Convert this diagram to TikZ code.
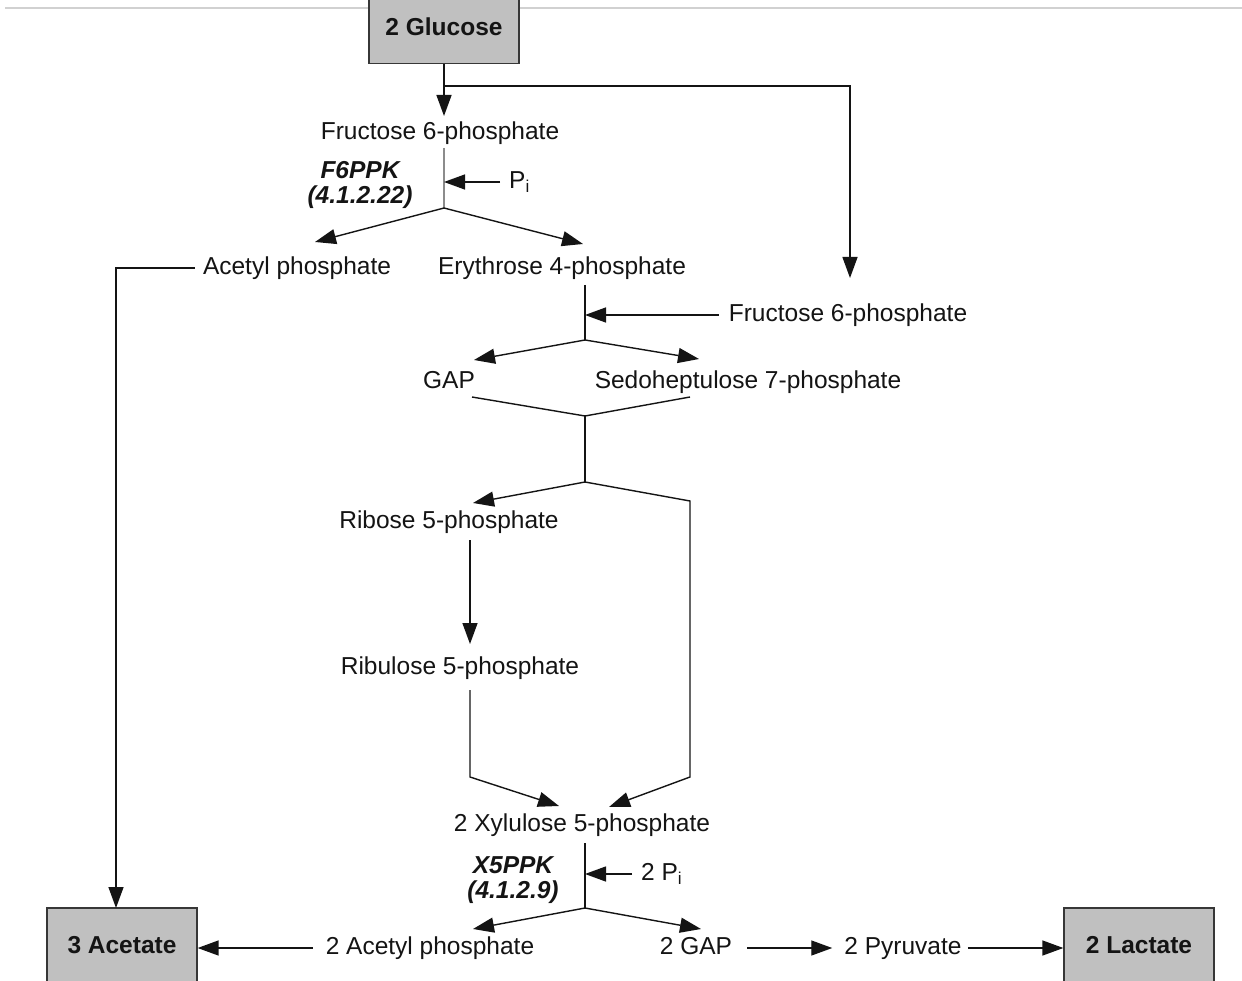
\documentclass[tikz,border=0pt]{standalone}
\usepackage{fontspec}
\setmainfont{Liberation Sans}
\usetikzlibrary{arrows.meta}
\definecolor{ink}{HTML}{141414}
\definecolor{boxgray}{HTML}{C0C0C0}
\begin{document}
\begin{tikzpicture}[x=1pt,y=-1pt,
  lbl/.style={font=\fontsize{24.5}{26}\selectfont, text=ink, inner sep=0pt,
              text height=18pt, text depth=5pt},
  enz/.style={font=\fontsize{24.5}{25.5}\selectfont\bfseries\itshape, text=ink,
              inner sep=0pt, align=center},
  endbox/.style={draw=ink!85, fill=boxgray, line width=1.3pt, inner sep=0pt,
                 minimum width=150pt, text=ink,
                 font=\fontsize{24.5}{26}\selectfont\bfseries},
  flow/.style={line width=1.4pt, draw=ink},
  arr/.style={flow, -{Triangle[length=21pt,width=15pt]}}
]
\useasboundingbox (0,0) rectangle (1242,981);
\clip (0,0) rectangle (1242,981);
\fill[white] (0,0) rectangle (1242,981);
\draw[line width=1.5pt, black!18] (5,8) -- (1242,8);

% end-point boxes
\node[endbox, minimum height=73pt] (glc) at (444,27) {2 Glucose};
\node[endbox, minimum height=74pt] (ace) at (122,945) {3 Acetate};
\node[endbox, minimum height=74pt] (lac) at (1139,945) {2 Lactate};

% metabolites
\node[lbl] (f6pA) at (440,133) {Fructose 6-phosphate};
\node[enz] (k1lab) at (360,185) {F6PPK\\(4.1.2.22)};
\node[lbl, anchor=west] (piA) at (509,182) {P\textsubscript{i}};
\node[lbl] (acp) at (297,268) {Acetyl phosphate};
\node[lbl] (e4p) at (562,268) {Erythrose 4-phosphate};
\node[lbl] (f6pB) at (848,315) {Fructose 6-phosphate};
\node[lbl] (gap) at (449,382) {GAP};
\node[lbl] (s7p) at (748,382) {Sedoheptulose 7-phosphate};
\node[lbl] (r5p) at (449,522) {Ribose 5-phosphate};
\node[lbl] (ru5p) at (460,668) {Ribulose 5-phosphate};
\node[lbl] (x5p) at (582,825) {2 Xylulose 5-phosphate};
\node[enz] (k2lab) at (513,880) {X5PPK\\(4.1.2.9)};
\node[lbl, anchor=west] (piB) at (641,874) {2 P\textsubscript{i}};
\node[lbl] (acp2) at (430,948) {2 Acetyl phosphate};
\node[lbl] (gap2) at (696,948) {2 GAP};
\node[lbl] (pyr) at (903,948) {2 Pyruvate};

% junctions and arrow ends
\coordinate (tF6P) at (444,116);
\coordinate (brG) at (444,86);
\coordinate (tF6Pb) at (850,278);
\coordinate (k1top) at (444,148);
\coordinate (k1) at (444,208);
\coordinate (tAcP) at (315,242);
\coordinate (tE4P) at (583,244);
\coordinate (tAce) at (116,908);
\coordinate (k2top) at (585,285);
\coordinate (k2) at (585,340);
\coordinate (tGAP) at (474,360);
\coordinate (tS7P) at (699,359);
\coordinate (mGAP) at (472,397);
\coordinate (mS7P) at (690,397);
\coordinate (k3) at (585,416);
\coordinate (k4) at (585,482);
\coordinate (tR5P) at (473,503);
\coordinate (cR) at (690,501);
\coordinate (cRb) at (690,777);
\coordinate (r5pOut) at (470,540);
\coordinate (tRu5P) at (470,644);
\coordinate (ru5pOut) at (470,690);
\coordinate (cL) at (470,777);
\coordinate (tX5Pa) at (559,806);
\coordinate (tX5Pb) at (609,807);
\coordinate (k5top) at (585,843);
\coordinate (k5) at (585,908);
\coordinate (tAcP2) at (473,929);
\coordinate (tGAP2) at (701,929);

% glucose feed
\draw[arr] (glc) -- (tF6P);
\draw[arr] (brG) -| (tF6Pb);

% phosphoketolase on fructose 6-phosphate
\draw[line width=1.4pt, black!45] (k1top) -- (k1);
\draw[arr, shorten <=9pt] (piA.west) -- (piA.west -| k1);
\draw[arr] (k1) -- (tAcP);
\draw[arr] (k1) -- (tE4P);
\draw[arr, shorten <=8pt] (acp.west) -| (tAce);

% transaldolase
\draw[flow] (k2top) -- (k2);
\draw[arr, shorten <=10pt] (f6pB.west) -- (f6pB.west -| k2);
\draw[arr] (k2) -- (tGAP);
\draw[arr] (k2) -- (tS7P);

% transketolase
\draw[flow] (mGAP) -- (k3) -- (mS7P);
\draw[flow] (k3) -- (k4);
\draw[arr] (k4) -- (tR5P);
\draw[arr] (k4) -- (cR) -- (cRb) -- (tX5Pb);
\draw[arr] (r5pOut) -- (tRu5P);
\draw[arr] (ru5pOut) -- (cL) -- (tX5Pa);

% phosphoketolase on xylulose 5-phosphate
\draw[flow] (k5top) -- (k5);
\draw[arr, shorten <=9pt] (piB.west) -- (piB.west -| k5);
\draw[arr] (k5) -- (tAcP2);
\draw[arr] (k5) -- (tGAP2);

% products
\draw[arr, shorten <=13pt] (acp2.west) -- (acp2.west -| ace.east);
\draw[arr, shorten <=15pt, shorten >=12pt] (gap2.east) -- (pyr.west);
\draw[arr, shorten <=6pt] (pyr.east) -- (pyr.east -| lac.west);
\end{tikzpicture}
\end{document}
